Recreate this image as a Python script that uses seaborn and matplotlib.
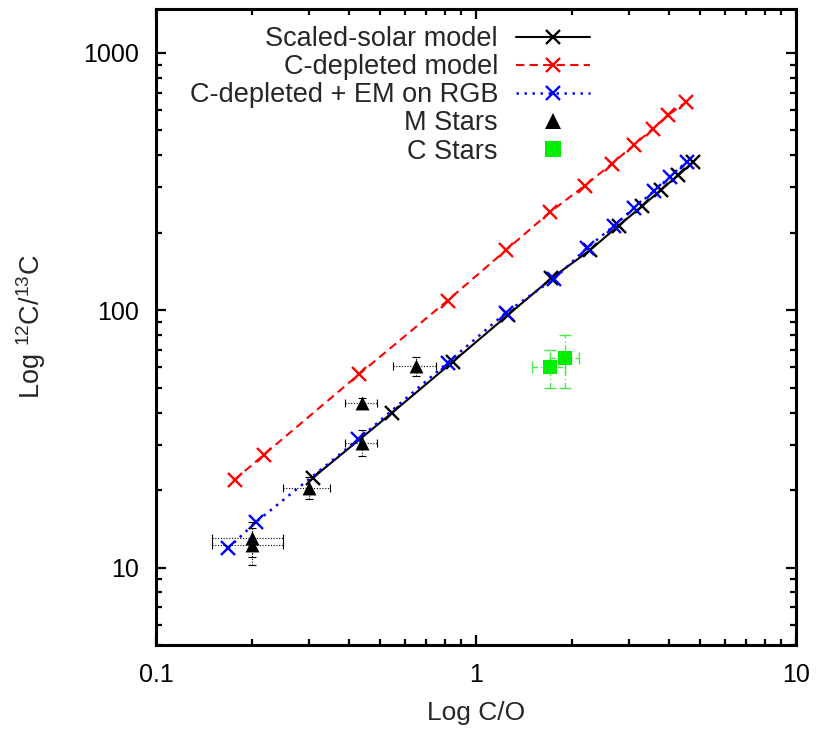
import matplotlib
matplotlib.use("Agg")
import matplotlib.pyplot as plt
import matplotlib.ticker as mticker
from matplotlib.lines import Line2D
import seaborn as sns
import numpy as np

# ---- data ----
solar_x = [0.309, 0.545, 0.846, 1.256, 1.72, 2.27, 2.79, 3.31, 3.79, 4.28, 4.78]
solar_y = [22.3, 39.8, 63.0, 95.6, 133, 171, 213, 254, 294, 334, 377]

cdep_x = [0.176, 0.217, 0.432, 0.815, 1.24, 1.70, 2.19, 2.66, 3.12, 3.57, 3.98, 4.53]
cdep_y = [21.9, 27.4, 56.5, 109, 171, 240, 305, 371, 439, 507, 572, 643]

em_x = [0.168, 0.205, 0.429, 0.815, 1.24, 1.757, 2.216, 2.69, 3.12, 3.61, 4.03, 4.55]
em_y = [11.9, 15.0, 31.5, 62.5, 97.8, 132.7, 174, 212, 250, 291, 329, 377]

m_x = [0.20, 0.20, 0.30, 0.44, 0.44, 0.65]
m_y = [13.0, 12.2, 20.4, 30.6, 43.5, 60.7]
m_xerr = [0.05, 0.05, 0.05, 0.05, 0.05, 0.10]
m_yerr = [2.0, 2.0, 2.0, 3.5, 2.0, 5.0]

c_x = [1.70, 1.90]
c_y = [60, 65]
c_xerr = [0.2, 0.2]
c_yerr = [10, 15]

x_ticks = [0.1, 1, 10]
x_ticklabels = ["0.1", "1", "10"]
y_ticks = [10, 100, 1000]
y_ticklabels = ["10", "100", "1000"]

# ---- style ----
sns.set_style("ticks")
plt.rcParams["font.family"] = ["Liberation Sans", "DejaVu Sans"]
plt.rcParams["mathtext.fontset"] = "custom"
plt.rcParams["mathtext.rm"] = "Liberation Sans"
plt.rcParams["mathtext.it"] = "Liberation Sans"
FS_TICK = 18
FS_LAB = 19
FS_LEG = 19.5

fig = plt.figure(figsize=(8.17, 7.32), dpi=100)
ax = fig.add_axes([156 / 817, 1 - 645 / 732, (796 - 156) / 817, (645 - 9) / 732])

ms = 10
sns.lineplot(x=solar_x, y=solar_y, sort=False, estimator=None, ax=ax, color="black",
             marker="x", markersize=ms, mew=1.7, mec="black", lw=1.5, linestyle="-",
             label="Scaled-solar model")
sns.lineplot(x=cdep_x, y=cdep_y, sort=False, estimator=None, ax=ax, color="red",
             marker="x", markersize=ms, mew=1.7, mec="red", lw=1.5, linestyle=(0, (4, 2.5)),
             label="C-depleted model")
sns.lineplot(x=em_x, y=em_y, sort=False, estimator=None, ax=ax, color="blue",
             marker="x", markersize=ms, mew=1.7, mec="blue", lw=1.8, linestyle=(0, (1, 2.2)),
             label="C-depleted + EM on RGB")

# error bars
eb = ax.errorbar(m_x, m_y, xerr=m_xerr, yerr=m_yerr, fmt="none", ecolor="black",
                 elinewidth=0.8, capsize=3, capthick=0.8, zorder=3)
for lc in eb[2]:
    lc.set_linestyle((0, (1, 1.5)))
eb2 = ax.errorbar(c_x, c_y, xerr=c_xerr, yerr=c_yerr, fmt="none", ecolor="#44ee44",
                  elinewidth=1.0, capsize=4, capthick=1.0, zorder=3)
for lc in eb2[2]:
    lc.set_linestyle((0, (4, 2, 1, 2)))

sns.scatterplot(x=m_x, y=m_y, ax=ax, marker="^", color="black", s=100, linewidth=0,
                label="M Stars", zorder=4)
sns.scatterplot(x=c_x, y=c_y, ax=ax, marker="s", color="#00ee00", s=115, linewidth=0,
                label="C Stars", zorder=4)

ax.set_xscale("log")
ax.set_yscale("log")
ax.set_xlim(0.1, 10)
ax.set_ylim(5, 1480)

ax.xaxis.set_major_locator(mticker.FixedLocator(x_ticks))
ax.xaxis.set_major_formatter(mticker.FixedFormatter(x_ticklabels))
ax.yaxis.set_major_locator(mticker.FixedLocator(y_ticks))
ax.yaxis.set_major_formatter(mticker.FixedFormatter(y_ticklabels))
ax.xaxis.set_minor_locator(mticker.LogLocator(base=10, subs=np.arange(2, 10)))
ax.yaxis.set_minor_locator(mticker.LogLocator(base=10, subs=np.arange(2, 10)))
ax.xaxis.set_minor_formatter(mticker.NullFormatter())
ax.yaxis.set_minor_formatter(mticker.NullFormatter())

ax.tick_params(which="both", direction="in", top=True, right=True, width=1.6, colors="black")
ax.tick_params(which="major", length=7, labelsize=FS_TICK)
ax.tick_params(which="minor", length=4)
ax.tick_params(axis="y", which="major", pad=12.5)
ax.tick_params(axis="x", which="major", pad=13)
for s in ax.spines.values():
    s.set_linewidth(2.2)
    s.set_color("black")
    s.set_visible(True)

ax.set_xlabel("Log C/O", fontsize=FS_LAB, labelpad=10)
ax.set_ylabel(r"Log $^{12}$C/$^{13}$C", fontsize=FS_LAB + 0.5, labelpad=25)

handles, labels = ax.get_legend_handles_labels()
proxy = {
    "M Stars": Line2D([], [], ls="none", marker="^", color="black", ms=12, mew=0),
    "C Stars": Line2D([], [], ls="none", marker="s", color="#00ee00", ms=12, mew=0),
}
handles = [proxy.get(l, h) for h, l in zip(handles, labels)]
leg = ax.legend(handles, labels, markerfirst=False, frameon=False, fontsize=FS_LEG,
                loc="upper right", bbox_to_anchor=(590 / 817, 1 - 26 / 732),
                bbox_transform=fig.transFigure, borderpad=0, borderaxespad=0,
                handlelength=2.75, handletextpad=0.65, labelspacing=0.08)

fig.savefig("out.png", dpi=100)
